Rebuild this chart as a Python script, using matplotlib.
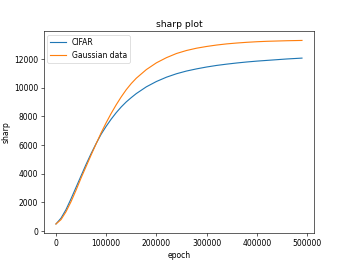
import matplotlib
matplotlib.use("Agg")
import matplotlib.pyplot as plt

# epoch samples and sharpness values
epochs = [0, 10000, 20000, 30000, 40000, 50000, 60000, 70000, 80000, 90000,
          100000, 110000, 120000, 130000, 140000, 150000, 160000, 180000,
          200000, 220000, 240000, 260000, 280000, 300000, 320000, 340000,
          360000, 380000, 400000, 420000, 440000, 460000, 490000]

cifar = [500, 900, 1500, 2250, 3050, 3850, 4650, 5400, 6100, 6750,
         7300, 7800, 8250, 8650, 9000, 9300, 9580, 10050,
         10420, 10720, 10960, 11150, 11300, 11430, 11540, 11630,
         11710, 11780, 11840, 11890, 11940, 11990, 12050]

gaussian = [500, 800, 1350, 2050, 2850, 3700, 4500, 5300, 6080, 6850,
            7550, 8200, 8800, 9350, 9850, 10280, 10650, 11250,
            11720, 12080, 12370, 12580, 12740, 12860, 12960, 13040,
            13100, 13150, 13190, 13220, 13240, 13260, 13280]

dpi = 54.5
fig, ax = plt.subplots(figsize=(349.2 / dpi, 262.2 / dpi), dpi=dpi)

ax.plot(epochs, cifar, label='CIFAR')
ax.plot(epochs, gaussian, label='Gaussian data')

ax.set_title('sharp plot')
ax.set_xlabel('epoch')
ax.set_ylabel('sharp')
ax.legend(loc='upper left')

plt.savefig('out.png', dpi=dpi)
